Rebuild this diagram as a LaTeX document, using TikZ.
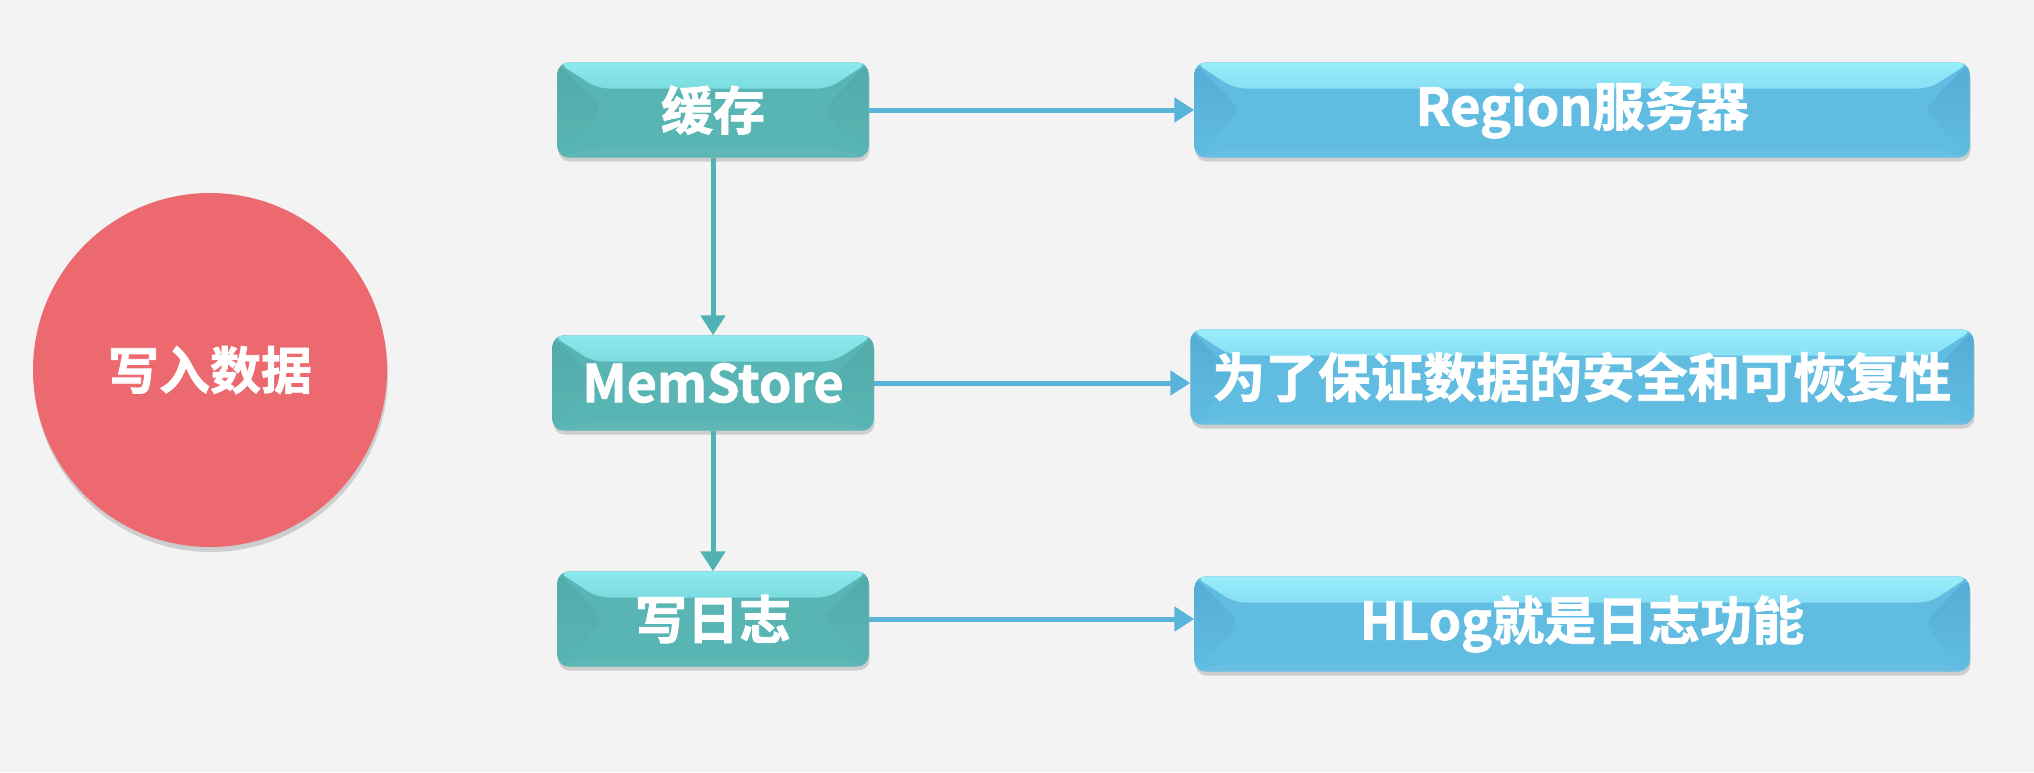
\documentclass[tikz,border=0pt]{standalone}
\usepackage{fontspec}
\newfontfamily\cjk[BoldFont={Noto Sans CJK SC Bold}, BoldFeatures={FakeBold=1.5}]{Noto Sans CJK SC}
\usetikzlibrary{shadows,arrows.meta,calc}
\definecolor{bg}{HTML}{F3F3F3}
\definecolor{redc}{HTML}{EC6970}
\definecolor{tealbase}{HTML}{58B5B3}
\definecolor{teallight}{HTML}{8AEAF0}
\definecolor{tealdark}{HTML}{52AAA9}
\definecolor{bluebase}{HTML}{60BCE1}
\definecolor{bluelight}{HTML}{98EDFA}
\definecolor{bluedark}{HTML}{55ACD6}
\definecolor{tealarrow}{HTML}{50B2B2}
\definecolor{bluearrow}{HTML}{5AB3D9}
\tikzset{
  bevel/.style n args={3}{fill=#1, path picture={
    \fill[top color=#2, bottom color=#1]
      (path picture bounding box.north west) -- (path picture bounding box.north east)
      -- ([xshift=-40pt,yshift=-26pt]path picture bounding box.north east)
      -- ([xshift=40pt,yshift=-26pt]path picture bounding box.north west) -- cycle;
    \fill[top color=#3, bottom color=#1]
      (path picture bounding box.north west)
      -- ([xshift=46pt]path picture bounding box.west)
      -- (path picture bounding box.south west) -- cycle;
    \fill[top color=#3, bottom color=#1]
      (path picture bounding box.north east)
      -- ([xshift=-46pt]path picture bounding box.east)
      -- (path picture bounding box.south east) -- cycle;
    \fill[#1!85!white, opacity=0.35]
      (path picture bounding box.south west) -- (path picture bounding box.south east)
      -- ([xshift=-30pt,yshift=8pt]path picture bounding box.south east)
      -- ([xshift=30pt,yshift=8pt]path picture bounding box.south west) -- cycle;
  }},
  boxbase/.style={rounded corners=11pt, minimum height=95pt, inner sep=0pt,
    text=white, font=\cjk\bfseries\fontsize{52}{60}\selectfont,
    drop shadow={shadow xshift=1pt, shadow yshift=-4pt, opacity=0.15, fill=black}},
  tealbox/.style={boxbase, bevel={tealbase}{teallight}{tealdark}},
  bluebox/.style={boxbase, bevel={bluebase}{bluelight}{bluedark}},
  tealarr/.style={draw=tealarrow, line width=5pt, -{Triangle[length=20pt,width=24pt]}},
  bluearr/.style={draw=bluearrow, line width=5pt, -{Triangle[length=20pt,width=24pt]}},
  startnode/.style={circle, minimum size=354pt, inner sep=0pt, fill=redc,
    text=white, font=\cjk\bfseries\fontsize{51}{60}\selectfont,
    drop shadow={shadow xshift=1pt, shadow yshift=-5pt, opacity=0.15, fill=black}}
}
\begin{document}
\begin{tikzpicture}[x=1pt,y=-1pt]
\fill[bg] (0,0) rectangle (2034,772);
\useasboundingbox (0,0) rectangle (2034,772);
\node[startnode] (start) at (210,370) {写入数据};
\node[tealbox, minimum width=311pt] (cache) at (713,110) {缓存};
\node[tealbox, minimum width=321pt] (mem) at (713,383) {MemStore};
\node[tealbox, minimum width=311pt] (log) at (713,619) {写日志};
\node[bluebox, minimum width=775pt] (region) at (1582,110) {Region服务器};
\node[bluebox, minimum width=783pt, font=\cjk\bfseries\fontsize{52.8}{60}\selectfont] (safe) at (1582,377) {为了保证数据的安全和可恢复性};
\node[bluebox, minimum width=775pt] (hlog) at (1582,624) {HLog就是日志功能};
\draw[bluearr] (cache.east) -- (cache.east -| region.west);
\draw[bluearr] (mem.east) -- (mem.east -| safe.west);
\draw[bluearr] (log.east) -- (log.east -| hlog.west);
\draw[tealarr] (cache.south) -- (mem.north);
\draw[tealarr] (mem.south) -- (log.north);
\end{tikzpicture}
\end{document}
